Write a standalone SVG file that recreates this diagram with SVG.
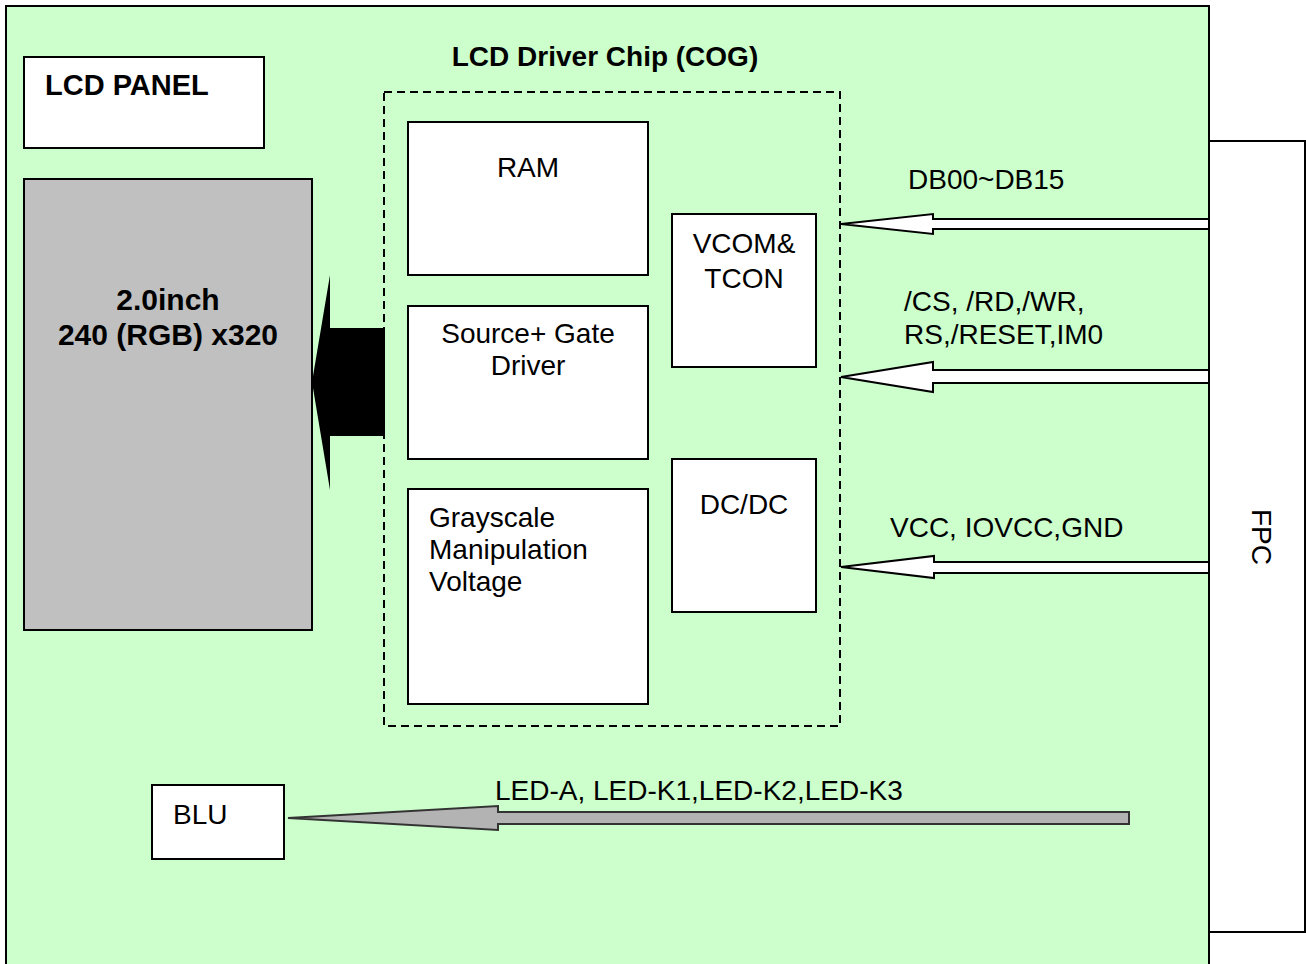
<svg xmlns="http://www.w3.org/2000/svg" width="1306" height="964" viewBox="0 0 1306 964">
<style>
text{font-family:"Liberation Sans",Arial,sans-serif;fill:#000}
.r{font-size:28px}
.b{font-size:28px;font-weight:bold}
.box{fill:#fff;stroke:#000;stroke-width:2}
.arr{fill:#fff;stroke:#000;stroke-width:2;stroke-linejoin:miter}
</style>
<rect width="1306" height="964" fill="#fff"/>
<g id="board">
<rect x="6" y="6" width="1203" height="990" fill="#ccffcc" stroke="#000" stroke-width="2"/>
</g>
<g id="fpc">
<rect x="1209" y="141" width="96" height="791" class="box"/>
<text class="r" transform="translate(1252,537) rotate(90)" text-anchor="middle">FPC</text>
</g>
<g id="lcd-panel-label">
<rect x="24" y="57" width="240" height="91" class="box"/>
<text x="45" y="95" font-size="29" font-weight="bold">LCD PANEL</text>
</g>
<g id="panel">
<rect x="24" y="179" width="288" height="451" fill="#c0c0c0" stroke="#000" stroke-width="2"/>
<text x="168" y="310" font-size="30" font-weight="bold" text-anchor="middle">2.0inch</text>
<text x="168" y="345" font-size="30" font-weight="bold" text-anchor="middle">240 (RGB) x320</text>
</g>
<g id="chip">
<rect x="384" y="92" width="456" height="634" fill="none" stroke="#000" stroke-width="2" stroke-dasharray="8,5"/>
<text class="b" x="605" y="66" text-anchor="middle">LCD Driver Chip (COG)</text>
</g>
<g id="ram">
<rect x="408" y="122" width="240" height="153" class="box"/>
<text class="r" x="528" y="177" text-anchor="middle">RAM</text>
</g>
<g id="source-gate">
<rect x="408" y="306" width="240" height="153" class="box"/>
<text class="r" x="528" y="343" text-anchor="middle">Source+ Gate</text>
<text class="r" x="528" y="375" text-anchor="middle">Driver</text>
</g>
<g id="grayscale">
<rect x="408" y="489" width="240" height="215" class="box"/>
<text class="r" x="429" y="527">Grayscale</text>
<text class="r" x="429" y="559">Manipulation</text>
<text class="r" x="429" y="591">Voltage</text>
</g>
<g id="vcom">
<rect x="672" y="214" width="144" height="153" class="box"/>
<text class="r" x="744" y="253" text-anchor="middle">VCOM&amp;</text>
<text class="r" x="744" y="288" text-anchor="middle">TCON</text>
</g>
<g id="dcdc">
<rect x="672" y="459" width="144" height="153" class="box"/>
<text class="r" x="744" y="514" text-anchor="middle">DC/DC</text>
</g>
<g id="blu">
<rect x="152" y="785" width="132" height="74" class="box"/>
<text class="r" x="173" y="824">BLU</text>
</g>
<g id="connectors">
<polygon points="312,382 330,275 330,328 385,328 385,436 330,436 330,490" fill="#000"/>
<polygon class="arr" points="841,224 933,214 933,219 1209,219 1209,229 933,229 933,234"/>
<polygon class="arr" points="841,377 933,362 933,370 1209,370 1209,383 933,383 933,392"/>
<polygon class="arr" points="841,567 934,556 934,562 1209,562 1209,573 934,573 934,578"/>
<polygon points="288,818 498,806 498,812 1129,812 1129,824 498,824 498,830" fill="#b3b3b3" stroke="#333" stroke-width="2"/>
<text class="r" x="908" y="189">DB00~DB15</text>
<text class="r" x="904" y="311">/CS, /RD,/WR,</text>
<text class="r" x="904" y="344">RS,/RESET,IM0</text>
<text class="r" x="890" y="537">VCC, IOVCC,GND</text>
<text class="r" x="495" y="800">LED-A, LED-K1,LED-K2,LED-K3</text>
</g>
</svg>
